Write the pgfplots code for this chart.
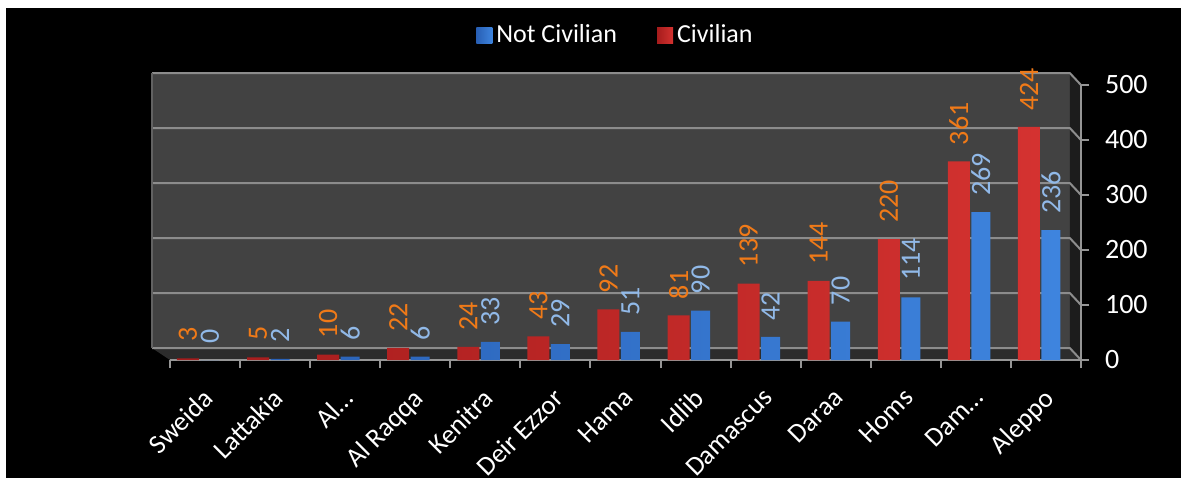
\documentclass[border=0pt]{standalone}
\usepackage{fontspec}
\setmainfont{Carlito}
\usepackage{pgfplots}
\usepackage{pgfplotstable}
\pgfplotsset{compat=1.18}
\definecolor{wallgray}{RGB}{66,66,66}
\definecolor{floorgray}{RGB}{44,44,44}
\definecolor{sidegray}{RGB}{28,28,28}
\definecolor{gridgray}{RGB}{140,140,140}
\definecolor{axisgray}{RGB}{150,150,150}
\definecolor{labelorange}{RGB}{240,122,24}
\definecolor{labelblue}{RGB}{145,185,232}
\definecolor{redL}{RGB}{165,28,28}
\definecolor{redM}{RGB}{242,88,82}
\definecolor{redR}{RGB}{212,50,48}
\definecolor{bluL}{RGB}{40,95,180}
\definecolor{bluM}{RGB}{105,175,245}
\definecolor{bluR}{RGB}{62,132,222}
\pgfplotstableread{
x civ notciv
0 3 0
1 5 2
2 10 6
3 22 6
4 24 33
5 43 29
6 92 51
7 81 90
8 139 42
9 144 70
10 220 114
11 361 269
12 424 236
}\datatable
\newcommand{\lblfont}{\fontsize{13}{15}\selectfont}
\newcommand{\numfont}{\fontsize{14}{16}\selectfont}
\newcommand{\catfont}{\fontsize{13.5}{15}\selectfont}
\begin{document}
\begin{tikzpicture}
\path[use as bounding box, fill=white] (0pt,0pt) rectangle (593.5pt,242pt);
\fill[black] (3pt,3pt) rectangle (590.5pt,238pt);
\begin{axis}[
  at={(76pt,62pt)}, anchor=south west,
  width=464.5pt, height=143.5pt, scale only axis,
  xmin=-0.756, xmax=12.5, ymin=0, ymax=521.8,
  clip=false,
  axis line style={draw=none},
  /pgf/number format/assume math mode=true,
  ticklabel style={text=white},
  xtick={0,...,12},
  xticklabels={Sweida,Lattakia,Al…,Al Raqqa,Kenitra,Deir Ezzor,Hama,Idlib,Damascus,Daraa,Homs,Dam…,Aleppo},
  xticklabel style={font=\catfont, rotate=45, anchor=north east, xshift=-4.5pt, yshift=-2pt},
  minor xtick={-0.5,0.5,...,12.5},
  xtick pos=bottom, ytick pos=right,
  tick align=outside,
  major tick length=4pt, minor tick length=4pt,
  major x tick style={draw=none},
  minor x tick style={draw=axisgray, line width=1pt},
  major y tick style={draw=axisgray, line width=1pt},
  ytick={0,100,...,500},
  yticklabel pos=right,
  yticklabel style={font=\numfont, anchor=west, xshift=4.5pt},
  legend style={at={(0.5,1)}, anchor=center, yshift=19pt, fill=black, draw=none,
    text=white, font=\lblfont, legend columns=2,
    /tikz/every even column/.append style={column sep=18pt}},
]
% back wall, floor, side wall
\fill[wallgray] (axis cs:-0.756,21.8) rectangle (axis cs:12.34,521.8);
\fill[floorgray] (axis cs:-0.756,21.8) -- (axis cs:12.34,21.8) -- (axis cs:12.5,0) -- (axis cs:-0.5,0) -- cycle;
\fill[sidegray] (axis cs:12.34,21.8) -- (axis cs:12.5,0) -- (axis cs:12.5,500) -- (axis cs:12.34,521.8) -- cycle;
\draw[gridgray, line width=1pt] (axis cs:-0.756,21.8) -- (axis cs:12.34,21.8) -- (axis cs:12.5,0);
\draw[gridgray, line width=1pt] (axis cs:-0.756,121.8) -- (axis cs:12.34,121.8) -- (axis cs:12.5,100);
\draw[gridgray, line width=1pt] (axis cs:-0.756,221.8) -- (axis cs:12.34,221.8) -- (axis cs:12.5,200);
\draw[gridgray, line width=1pt] (axis cs:-0.756,321.8) -- (axis cs:12.34,321.8) -- (axis cs:12.5,300);
\draw[gridgray, line width=1pt] (axis cs:-0.756,421.8) -- (axis cs:12.34,421.8) -- (axis cs:12.5,400);
\draw[gridgray, line width=1pt] (axis cs:-0.756,521.8) -- (axis cs:12.34,521.8) -- (axis cs:12.5,500);
\draw[gridgray!70!black, line width=0.6pt] (axis cs:-0.756,21.8) -- (axis cs:-0.756,521.8);
\draw[axisgray, line width=1pt] (axis cs:-0.5,0) -- (axis cs:12.5,0) -- (axis cs:12.5,500);

\addplot[ybar, bar width=9.5pt, bar shift=2.5pt, draw=none,
  left color=bluL, middle color=bluM, right color=bluR,
  nodes near coords,
  every node near coord/.append style={font=\numfont, text=labelblue, xshift=2.5pt, yshift=7pt, rotate=90, anchor=west, inner sep=1pt},
  legend image code/.code={\path[left color=bluL, middle color=bluM, right color=bluR] (0pt,-4pt) rectangle (8pt,4pt);}]
  table[x=x, y=notciv] {\datatable};
\addlegendentry{Not Civilian}
\addplot[ybar, bar width=11pt, bar shift=-8.5pt, draw=none,
  left color=redL, middle color=redM, right color=redR,
  nodes near coords,
  every node near coord/.append style={font=\numfont, text=labelorange, xshift=-8.5pt, yshift=7pt, rotate=90, anchor=west, inner sep=1pt},
  legend image code/.code={\path[left color=redL, middle color=redM, right color=redR] (0pt,-4pt) rectangle (8pt,4pt);}]
  table[x=x, y=civ] {\datatable};
\addlegendentry{Civilian}
\end{axis}
\end{tikzpicture}
\end{document}
